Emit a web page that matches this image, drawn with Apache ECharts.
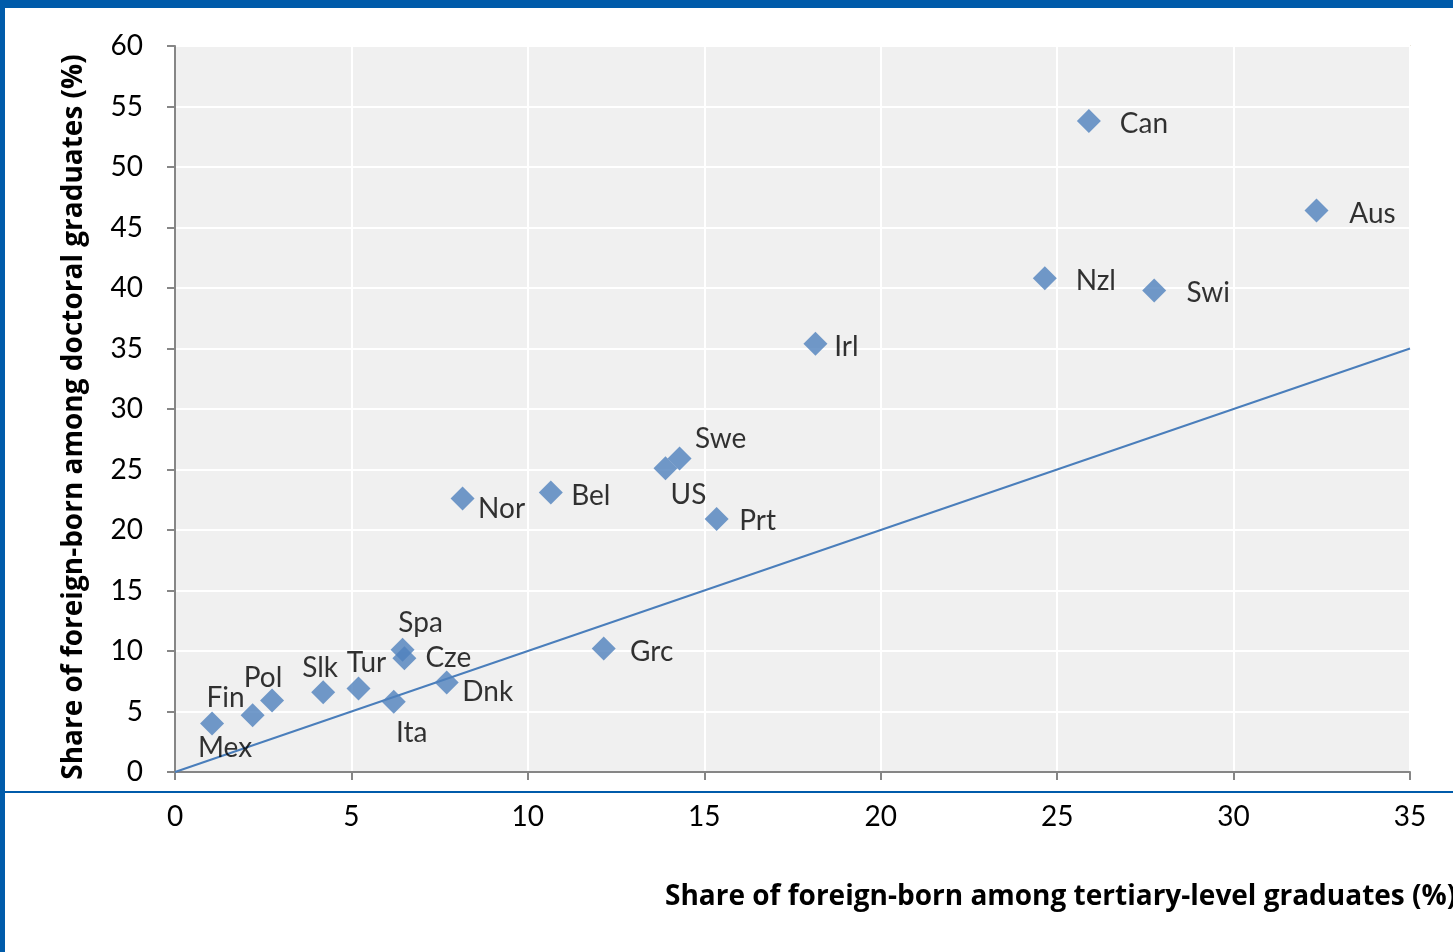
<!DOCTYPE html>
<html>
<head>
<meta charset="utf-8">
<style>
  html, body { margin: 0; padding: 0; background: #fff; }
  #chart { width: 1453px; height: 952px; }
</style>
<script src="https://cdn.jsdelivr.net/npm/echarts@6/dist/echarts.min.js"></script>
</head>
<body>
<div id="chart"></div>
<script>
// countries and their shares (%)
const countries = ['Mex', 'Fin', 'Pol', 'Slk', 'Tur', 'Ita', 'Spa', 'Cze', 'Dnk', 'Nor',
                   'Bel', 'Grc', 'US', 'Swe', 'Prt', 'Irl', 'Nzl', 'Can', 'Swi', 'Aus'];
const tertiaryShare = [1.05, 2.2, 2.75, 4.2, 5.2, 6.2, 6.45, 6.5, 7.7, 8.15,
                       10.65, 12.15, 13.9, 14.3, 15.35, 18.15, 24.65, 25.9, 27.75, 32.35];
const doctoralShare = [4.0, 4.7, 5.9, 6.6, 6.9, 5.8, 10.1, 9.4, 7.4, 22.6,
                       23.1, 10.2, 25.1, 25.9, 20.9, 35.4, 40.8, 53.8, 39.8, 46.4];
const xTicks = [0, 5, 10, 15, 20, 25, 30, 35];
const yTicks = [0, 5, 10, 15, 20, 25, 30, 35, 40, 45, 50, 55, 60];

// label offsets from the marker centre (px)
const labelOffset = {
  Mex: [13, 24], Fin: [-27, -17], Pol: [-9, -23], Slk: [-3, -24], Tur: [8, -26],
  Spa: [18, -27], Cze: [44, 0], Ita: [18, 31], Dnk: [41, 10], Nor: [39, 10],
  Bel: [40, 3], Grc: [48, 3], US: [23, 27], Swe: [41, -20], Prt: [41, 2],
  Irl: [31, 3], Nzl: [51, 3], Can: [55, 3], Swi: [54, 3], Aus: [56, 3]
};

const font = 'Lato, "Open Sans", sans-serif';
const titleFont = '"Open Sans", Lato, sans-serif';
const blue = '#005BAA';

const points = countries.map((c, i) => ({
  name: c,
  value: [tertiaryShare[i], doctoralShare[i]],
  label: { offset: labelOffset[c] }
}));

let myChart = echarts.init(document.getElementById('chart'));
myChart.setOption({
  animation: false,
  grid: {
    left: 175, right: 43, top: 46, bottom: 180,
    show: true, backgroundColor: '#f0f0f0', borderColor: '#ebe7dc', borderWidth: 2
  },
  xAxis: {
    type: 'value', min: xTicks[0], max: xTicks[xTicks.length - 1], interval: 5,
    axisLine: { show: true, onZero: false, lineStyle: { color: '#868686', width: 2 } },
    axisTick: { show: true, length: 8, lineStyle: { color: '#868686', width: 2 } },
    axisLabel: { margin: 31, fontSize: 28, color: '#000', fontFamily: font },
    splitLine: { show: true, lineStyle: { color: '#ffffff', width: 2 } }
  },
  yAxis: {
    type: 'value', min: yTicks[0], max: yTicks[yTicks.length - 1], interval: 5,
    axisLine: { show: true, onZero: false, lineStyle: { color: '#868686', width: 2 } },
    axisTick: { show: true, length: 8, lineStyle: { color: '#868686', width: 2 } },
    axisLabel: { margin: 32, fontSize: 28, color: '#000', fontFamily: font },
    splitLine: { show: true, lineStyle: { color: '#ffffff', width: 2 } }
  },
  series: [
    {
      type: 'line',
      data: [[0, 0], [35, 35]],
      showSymbol: false,
      lineStyle: { color: '#4a7ebb', width: 2 },
      z: 2
    },
    {
      type: 'scatter',
      data: points,
      symbol: 'diamond',
      symbolSize: 24,
      itemStyle: { color: '#4f81bd' },
      label: {
        show: true, position: 'inside', formatter: '{b}',
        align: 'center', verticalAlign: 'middle',
        fontSize: 28, color: '#000', fontFamily: font
      },
      z: 3
    }
  ],
  graphic: [
    { type: 'rect', left: 0, top: 0, shape: { width: 1453, height: 8 }, style: { fill: blue } },
    { type: 'rect', left: 0, top: 0, shape: { width: 5, height: 952 }, style: { fill: blue } },
    { type: 'rect', left: 5, top: 791, shape: { width: 1448, height: 2 }, style: { fill: blue } },
    {
      type: 'text', x: 74, y: 417, rotation: Math.PI / 2,
      style: {
        text: 'Share of foreign-born among doctoral graduates (%)',
        font: 'bold 28px ' + titleFont, fill: '#000', align: 'center', verticalAlign: 'middle'
      }
    },
    {
      type: 'text', x: 665, y: 897,
      style: {
        text: 'Share of foreign-born among tertiary-level graduates (%)',
        font: 'bold 28px ' + titleFont, fill: '#000', align: 'left', verticalAlign: 'middle'
      }
    }
  ]
});
</script>
</body>
</html>
